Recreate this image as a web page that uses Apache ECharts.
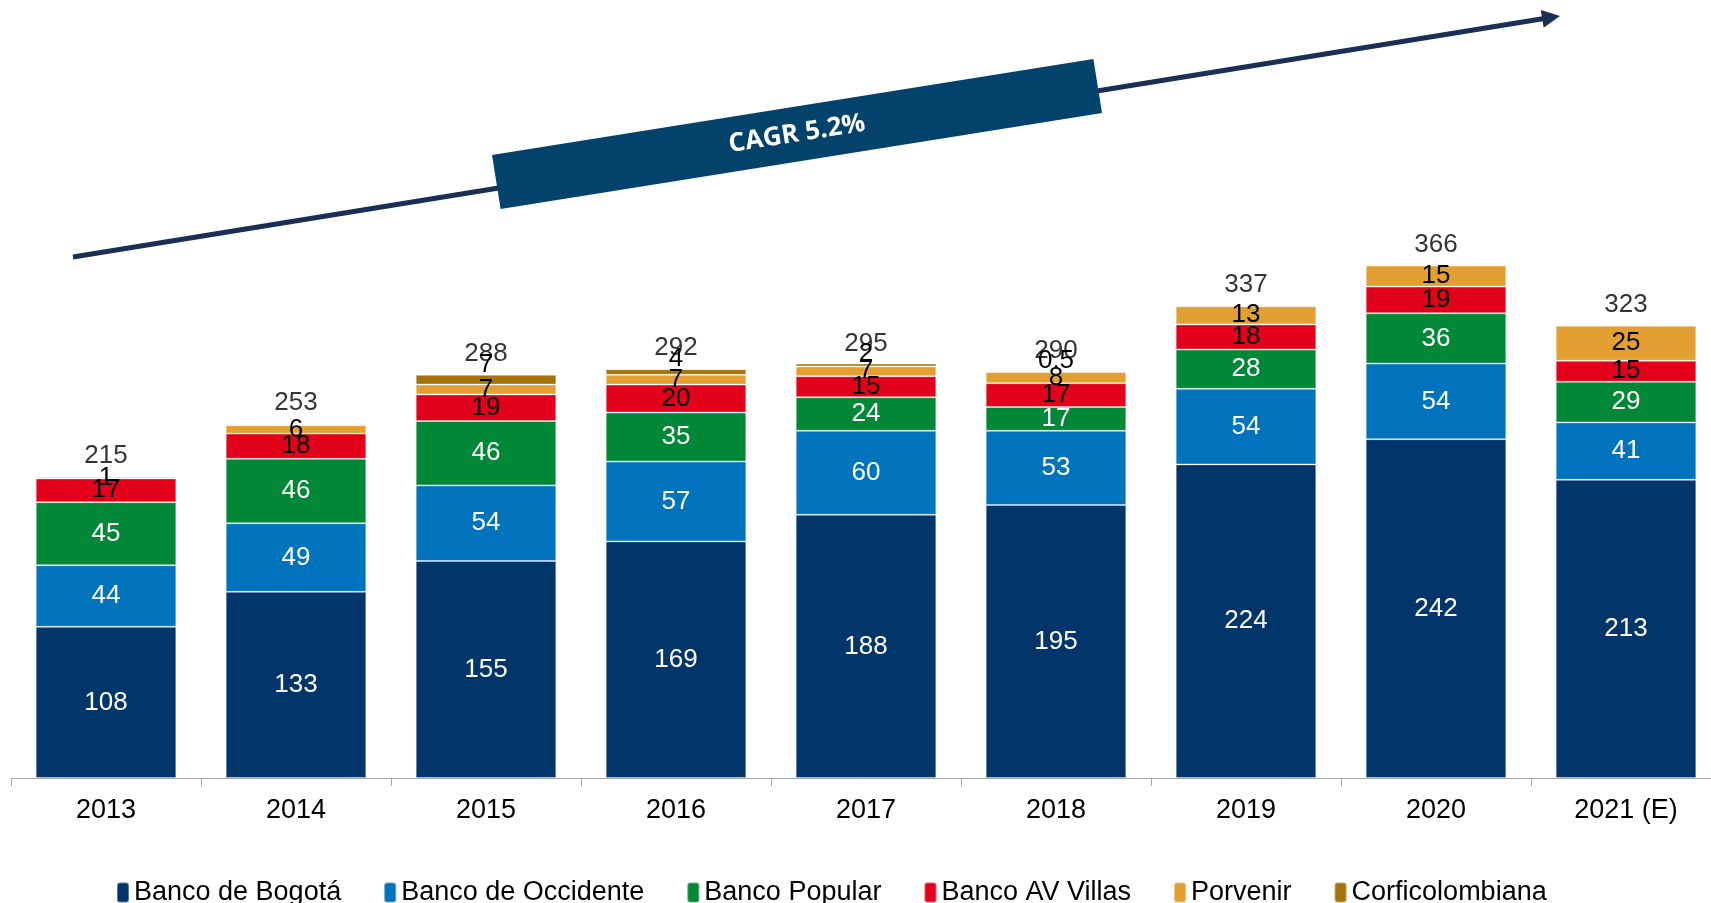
<!DOCTYPE html>
<html>
<head>
<meta charset="utf-8">
<script src="https://cdn.jsdelivr.net/npm/echarts@6/dist/echarts.min.js"></script>
<style>
  html, body { margin: 0; padding: 0; background: #fff; }
  #chart { width: 1711px; height: 903px; }
</style>
</head>
<body>
<div id="chart"></div>
<script>
// datos
var years = ['2013', '2014', '2015', '2016', '2017', '2018', '2019', '2020', '2021 (E)'];
var bogota = [108, 133, 155, 169, 188, 195, 224, 242, 213];
var occidente = [44, 49, 54, 57, 60, 53, 54, 54, 41];
var popular = [45, 46, 46, 35, 24, 17, 28, 36, 29];
var avVillas = [17, 18, 19, 20, 15, 17, 18, 19, 15];
var porvenir = [1, 6, 7, 7, 7, 8, 13, 15, 25];
var corfi = [null, null, 7, 4, 2, 0.5, null, null, null];
var totals = [215, 253, 288, 292, 295, 290, 337, 366, 323];

var FONT = 'Liberation Sans';

var chart = echarts.init(document.getElementById('chart'));

function barSeries(name, data, color, labelColor, extra) {
    var s = {
        name: name,
        type: 'bar',
        stack: 'total',
        barCategoryGap: '26%',
        data: data,
        itemStyle: { color: color, borderColor: 'rgba(255,255,255,0.35)', borderWidth: 1 },
        label: {
            show: true,
            position: 'inside',
            color: labelColor,
            fontFamily: FONT,
            fontSize: 26,
            formatter: function (p) { return p.value == null ? '' : p.value; }
        }
    };
    if (extra) { Object.assign(s.label, extra); }
    return s;
}

var angle = Math.atan2(241, 1487);
var arrowLen = Math.sqrt(1487 * 1487 + 241 * 241);

var option = {
    animation: false,
    grid: { left: 11, width: 1710, top: 78, bottom: 125, outerBoundsMode: 'none', containLabel: false },
    legend: {
        left: 111,
        top: 874,
        itemWidth: 12,
        itemHeight: 20,
        itemGap: 42,
        textStyle: { fontFamily: FONT, fontSize: 27, color: '#000' },
        data: ['Banco de Bogotá', 'Banco de Occidente', 'Banco Popular', 'Banco AV Villas', 'Porvenir', 'Corficolombiana']
    },
    xAxis: {
        type: 'category',
        data: years,
        axisLine: { lineStyle: { color: '#a6a6a6', width: 1 } },
        axisTick: { show: true, length: 8, lineStyle: { color: '#a6a6a6' } },
        axisLabel: { fontFamily: FONT, fontSize: 27, color: '#000', margin: 19 }
    },
    yAxis: {
        type: 'value',
        min: 0,
        max: 500,
        show: false,
        splitLine: { show: false }
    },
    series: [
        barSeries('Banco de Bogotá', bogota, '#02356a', '#fff'),
        barSeries('Banco de Occidente', occidente, '#0073bd', '#fff'),
        barSeries('Banco Popular', popular, '#008836', '#fff'),
        barSeries('Banco AV Villas', avVillas, '#e2001a', '#000'),
        barSeries('Porvenir', porvenir, '#e3a032', '#000'),
        barSeries('Corficolombiana', corfi, '#a57408', '#000', { position: 'top', distance: -3 }),
        {
            name: 'Total',
            type: 'scatter',
            data: totals,
            symbolSize: 0,
            z: 5,
            label: {
                show: true,
                position: 'top',
                distance: 8,
                color: '#000',
                fontFamily: FONT,
                fontSize: 26
            }
        }
    ],
    graphic: [
        {
            type: 'group',
            x: 73,
            y: 257,
            rotation: angle,
            z: 10,
            children: [
                {
                    type: 'line',
                    shape: { x1: 0, y1: 0, x2: arrowLen - 16, y2: 0 },
                    style: { stroke: '#1b2f55', lineWidth: 5 }
                },
                {
                    type: 'polygon',
                    shape: { points: [[arrowLen - 18, -9], [arrowLen, 0], [arrowLen - 18, 9]] },
                    style: { fill: '#1b2f55' }
                }
            ]
        },
        {
            type: 'group',
            x: 797,
            y: 134,
            rotation: Math.atan2(96, 601),
            z: 11,
            children: [
                {
                    type: 'rect',
                    shape: { x: -304.5, y: -27.3, width: 609, height: 54.6 },
                    style: { fill: '#02426b' }
                },
                {
                    type: 'text',
                    x: 0,
                    y: 0,
                    style: {
                        text: 'CAGR 5.2%',
                        fill: '#fff',
                        font: 'bold 26px "Open Sans"',
                        align: 'center',
                        verticalAlign: 'middle'
                    }
                }
            ]
        }
    ]
};

chart.setOption(option);
</script>
</body>
</html>
